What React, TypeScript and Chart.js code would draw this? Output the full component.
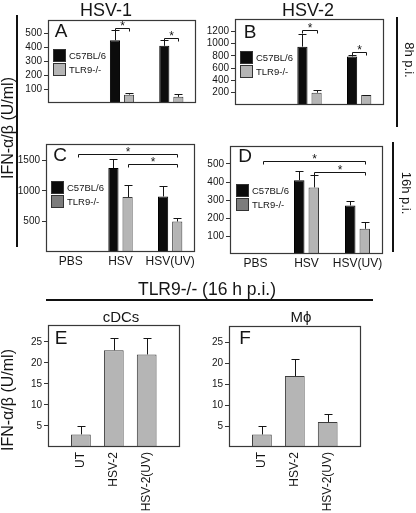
import React, { useEffect, useRef } from 'react';
import { Chart, registerables } from 'chart.js';

Chart.register(...registerables);

const FONT = "'Liberation Sans', Arial, Helvetica, sans-serif";
Chart.defaults.font.family = FONT;

// ---------- data ----------
const GROUPS = ['PBS', 'HSV', 'HSV(UV)'];
const CELL_CATS = ['UT', 'HSV-2', 'HSV-2(UV)'];
const SERIES = ['C57BL/6', 'TLR9-/-'];

// A: HSV-1, 8h p.i.
const A_WT = [0, 450, 410];
const A_WT_ERR = [0, 70, 42];
const A_KO = [0, 60, 44];
const A_KO_ERR = [0, 10, 21];
const A_TICKS = [100, 200, 300, 400, 500];
const A_MAX = 595;

// B: HSV-2, 8h p.i.
const B_WT = [8, 950, 790];
const B_WT_ERR = [0, 200, 20];
const B_KO = [8, 200, 162];
const B_KO_ERR = [0, 48, 8];
const B_TICKS = [200, 400, 600, 800, 1000, 1200];
const B_MAX = 1400;

// C: HSV-1, 16h p.i.
const C_WT = [15, 1375, 910];
const C_WT_ERR = [0, 152, 170];
const C_KO = [15, 900, 500];
const C_KO_ERR = [0, 200, 60];
const C_TICKS = [500, 1000, 1500];
const C_MAX = 1770;

// D: HSV-2, 16h p.i.
const D_WT = [5, 410, 270];
const D_WT_ERR = [0, 50, 27];
const D_KO = [5, 370, 140];
const D_KO_ERR = [0, 70, 38];
const D_TICKS = [100, 200, 300, 400, 500];
const D_MAX = 600;

// E: cDCs, F: Mphi (TLR9-/-, 16 h p.i.)
const E_VALS = [3, 23, 22];
const E_ERR = [2, 3, 4];
const F_VALS = [3, 17, 6];
const F_ERR = [2, 4, 2];
const EF_TICKS = [5, 10, 15, 20, 25];
const EF_MAX = 29;

// significance brackets: [dataset, index] -> [dataset, index] at a value level
const A_BRACKETS = [
  { from: [0, 1], to: [1, 1], value: 535 },
  { from: [0, 2], to: [1, 2], value: 466 },
];
const B_BRACKETS = [
  { from: [0, 1], to: [1, 1], value: 1213 },
  { from: [0, 2], to: [1, 2], value: 861 },
];
const C_BRACKETS = [
  { from: [1, 0], to: [1, 2], value: 1614 },
  { from: [1, 1], to: [1, 2], value: 1440 },
];
const D_BRACKETS = [
  { from: [1, 0], to: [1, 2], value: 515 },
  { from: [1, 1], to: [1, 2], value: 457 },
];

// ---------- styles ----------
const BLACK = '#0c0c0c';
const GRAY = '#b5b5b5';
const DARK_LEGEND_GRAY = '#7c7c7c';
const INK = '#151515';

const decor = {
  id: 'decor',
  afterDatasetsDraw(chart: any, _a: any, opts: any) {
    const ctx = chart.ctx;
    const ys = chart.scales.y;
    ctx.save();
    ctx.strokeStyle = INK;
    ctx.lineWidth = 1;
    (opts.errors || []).forEach((errs: number[], di: number) => {
      const meta = chart.getDatasetMeta(di);
      const data = chart.data.datasets[di].data;
      errs.forEach((e, j) => {
        if (!e) return;
        const el = meta.data[j];
        if (!el) return;
        const x = Math.round(el.x) + 0.5;
        const top = Math.round(ys.getPixelForValue(data[j] + e)) + 0.5;
        const half = opts.cap / 2;
        ctx.beginPath();
        ctx.moveTo(x, el.y);
        ctx.lineTo(x, top);
        ctx.moveTo(x - half, top);
        ctx.lineTo(x + half, top);
        ctx.stroke();
      });
    });
    (opts.brackets || []).forEach((b: any) => {
      const e1 = chart.getDatasetMeta(b.from[0]).data[b.from[1]];
      const e2 = chart.getDatasetMeta(b.to[0]).data[b.to[1]];
      const x1 = Math.round(e1.x) + 0.5;
      const x2 = Math.round(e2.x) + 0.5;
      const y = Math.round(ys.getPixelForValue(b.value)) + 0.5;
      ctx.beginPath();
      ctx.moveTo(x1, y + 3);
      ctx.lineTo(x1, y);
      ctx.lineTo(x2, y);
      ctx.lineTo(x2, y + 3);
      ctx.stroke();
      ctx.fillStyle = INK;
      ctx.font = `12px ${FONT}`;
      ctx.textAlign = 'center';
      ctx.textBaseline = 'middle';
      ctx.fillText('*', (x1 + x2) / 2, y - 2);
    });
    ctx.restore();
  },
  afterDraw(chart: any) {
    const { left, right, top, bottom } = chart.chartArea;
    const ctx = chart.ctx;
    ctx.save();
    ctx.strokeStyle = '#383838';
    ctx.lineWidth = 1.2;
    ctx.strokeRect(Math.round(left) + 0.5, Math.round(top) + 0.5, Math.round(right - left) - 1, Math.round(bottom - top) - 1);
    ctx.restore();
  },
};

type Spec = {
  box: { x: number; y: number; w: number; h: number };
  yW: number;
  xH: number;
  labels: string[];
  datasets: { label: string; data: (number | null)[]; color: string }[];
  errors: number[][];
  brackets?: any[];
  ticks: number[];
  max: number;
  showX: boolean;
  rotated?: boolean;
  catPct: number;
  barPct: number;
  offset: boolean;
  cap: number;
};

const PAD_T = 6;
const PAD_R = 4;

function Panel({ spec }: { spec: Spec }) {
  const ref = useRef<HTMLCanvasElement>(null);
  const { box, yW, xH, showX } = spec;
  const bottomPart = showX ? xH : 2;
  const cw = yW + box.w + PAD_R;
  const ch = PAD_T + box.h + bottomPart;
  useEffect(() => {
    const chart = new Chart(ref.current as HTMLCanvasElement, {
      type: 'bar',
      data: {
        labels: spec.labels,
        datasets: spec.datasets.map((d) => ({
          label: d.label,
          data: d.data,
          backgroundColor: d.color,
          borderColor: d.color === BLACK ? '#000' : '#3c3c3c',
          borderWidth: 1,
          categoryPercentage: spec.catPct,
          barPercentage: spec.barPct,
        })),
      },
      options: {
        animation: false,
        responsive: false,
        maintainAspectRatio: false,
        layout: { padding: { top: PAD_T, right: PAD_R, left: 0, bottom: showX ? 0 : 2 } },
        plugins: {
          legend: { display: false },
          tooltip: { enabled: false },
          decor: { errors: spec.errors, brackets: spec.brackets || [], cap: spec.cap },
        } as any,
        scales: {
          x: {
            display: showX,
            offset: spec.offset,
            grid: { display: false, drawTicks: false },
            border: { display: false },
            ticks: {
              autoSkip: false,
              minRotation: spec.rotated ? 90 : 0,
              maxRotation: spec.rotated ? 90 : 0,
              padding: spec.rotated ? 5 : 2,
              color: INK,
              font: { size: 12 },
            },
            afterFit: (s: any) => {
              s.height = xH;
            },
          },
          y: {
            min: 0,
            max: spec.max,
            grid: { display: true, drawOnChartArea: false, drawTicks: true, tickLength: 4, color: '#333' },
            border: { display: false },
            ticks: { color: INK, font: { size: 10 }, padding: 2, callback: (v: any) => String(v) },
            afterBuildTicks: (s: any) => {
              s.ticks = spec.ticks.map((v) => ({ value: v }));
            },
            afterFit: (s: any) => {
              s.width = yW;
            },
          },
        },
      } as any,
      plugins: [decor],
    });
    return () => chart.destroy();
  }, []);
  return (
    <canvas
      ref={ref}
      width={cw}
      height={ch}
      style={{ position: 'absolute', left: box.x - yW, top: box.y - PAD_T, width: cw, height: ch }}
    />
  );
}

function T({ x, y, size, rot = 0, children }: any) {
  return (
    <div
      style={{
        position: 'absolute',
        left: x,
        top: y,
        transform: `translate(-50%,-50%) rotate(${rot}deg)`,
        fontSize: size,
        fontFamily: FONT,
        whiteSpace: 'nowrap',
        lineHeight: 1,
        color: INK,
      }}
    >
      {children}
    </div>
  );
}

function Line({ x, y, w, h }: any) {
  return <div style={{ position: 'absolute', left: x, top: y, width: w, height: h, background: '#111' }} />;
}

function Legend({ x, y, gray }: any) {
  const rows = [BLACK, gray];
  return (
    <>
      {rows.map((c, i) => (
        <React.Fragment key={i}>
          <div
            style={{
              position: 'absolute',
              left: x,
              top: y + i * 14,
              width: 11,
              height: 11,
              background: c,
              border: '1px solid #333',
            }}
          />
          <div
            style={{
              position: 'absolute',
              left: x + 16,
              top: y + i * 14 + 7,
              transform: 'translateY(-50%)',
              fontSize: 9.5,
              fontFamily: FONT,
              lineHeight: 1,
              color: INK,
              whiteSpace: 'nowrap',
            }}
          >
            {SERIES[i]}
          </div>
        </React.Fragment>
      ))}
    </>
  );
}

const groupSpec = (
  box: Spec['box'],
  yW: number,
  wt: number[],
  wtErr: number[],
  ko: number[],
  koErr: number[],
  ticks: number[],
  max: number,
  brackets: any[],
  showX: boolean
): Spec => ({
  box,
  yW,
  xH: 22,
  labels: GROUPS,
  datasets: [
    { label: SERIES[0], data: wt, color: BLACK },
    { label: SERIES[1], data: ko, color: GRAY },
  ],
  errors: [wtErr, koErr],
  brackets,
  ticks,
  max,
  showX,
  catPct: 0.57,
  barPct: 0.72,
  offset: true,
  cap: 8,
});

const cellSpec = (box: Spec['box'], vals: number[], errs: number[], label: string): Spec => ({
  box,
  yW: 28,
  xH: 70,
  labels: ['', ...CELL_CATS, ''],
  datasets: [{ label, data: [null, ...vals, null], color: GRAY }],
  errors: [[0, ...errs, 0]],
  ticks: EF_TICKS,
  max: EF_MAX,
  showX: true,
  rotated: true,
  catPct: 1,
  barPct: 0.6,
  offset: false,
  cap: 8,
});

const SPEC_A = groupSpec({ x: 48, y: 18, w: 148, h: 107 }, 30, A_WT, A_WT_ERR, A_KO, A_KO_ERR, A_TICKS, A_MAX, A_BRACKETS, false);
const SPEC_B = groupSpec({ x: 235, y: 17, w: 149, h: 110 }, 34, B_WT, B_WT_ERR, B_KO, B_KO_ERR, B_TICKS, B_MAX, B_BRACKETS, false);
const SPEC_C = groupSpec({ x: 46, y: 142, w: 149, h: 110 }, 30, C_WT, C_WT_ERR, C_KO, C_KO_ERR, C_TICKS, C_MAX, C_BRACKETS, true);
const SPEC_D = groupSpec({ x: 230, y: 144, w: 153, h: 110 }, 30, D_WT, D_WT_ERR, D_KO, D_KO_ERR, D_TICKS, D_MAX, D_BRACKETS, true);
const SPEC_E = cellSpec({ x: 48, y: 323, w: 147, h: 124 }, E_VALS, E_ERR, 'cDCs');
const SPEC_F = cellSpec({ x: 229, y: 324, w: 147, h: 123 }, F_VALS, F_ERR, 'M\u03d5');

export default function App() {
  useEffect(() => {
    document.body.style.margin = '0';
  }, []);
  return (
    <div style={{ position: 'fixed', left: 0, top: 0, width: 416, height: 513, background: '#fff', overflow: 'hidden' }}>
      <Panel spec={SPEC_A} />
      <Panel spec={SPEC_B} />
      <Panel spec={SPEC_C} />
      <Panel spec={SPEC_D} />
      <Panel spec={SPEC_E} />
      <Panel spec={SPEC_F} />

      <T x={106} y={10} size={18}>HSV-1</T>
      <T x={308} y={10} size={18}>HSV-2</T>

      <T x={61} y={30} size={19}>A</T>
      <T x={250} y={31} size={19}>B</T>
      <T x={60} y={154} size={19}>C</T>
      <T x={245} y={155} size={19}>D</T>
      <T x={61} y={337} size={19}>E</T>
      <T x={245} y={337} size={19}>F</T>

      <Legend x={53} y={49} gray={GRAY} />
      <Legend x={240} y={51} gray={GRAY} />
      <Legend x={51} y={181} gray={DARK_LEGEND_GRAY} />
      <Legend x={236} y={184} gray={DARK_LEGEND_GRAY} />

      <Line x={16} y={15} w={2} h={232} />
      <T x={8} y={128} size={16} rot={-90}>IFN-α/β (U/ml)</T>

      <Line x={396} y={17} w={2} h={110} />
      <T x={409} y={60} size={13} rot={90}>8h p.i.</T>
      <Line x={392} y={142} w={2} h={110} />
      <T x={406} y={193} size={13} rot={90}>16h p.i.</T>

      <T x={207} y={290} size={17.5}>TLR9-/- (16 h p.i.)</T>
      <Line x={46} y={299} w={327} h={2} />
      <T x={121} y={316} size={15}>cDCs</T>
      <T x={301} y={316} size={15}>M{'\u03d5'}</T>

      <T x={8} y={400} size={16} rot={-90}>IFN-α/β (U/ml)</T>
    </div>
  );
}
